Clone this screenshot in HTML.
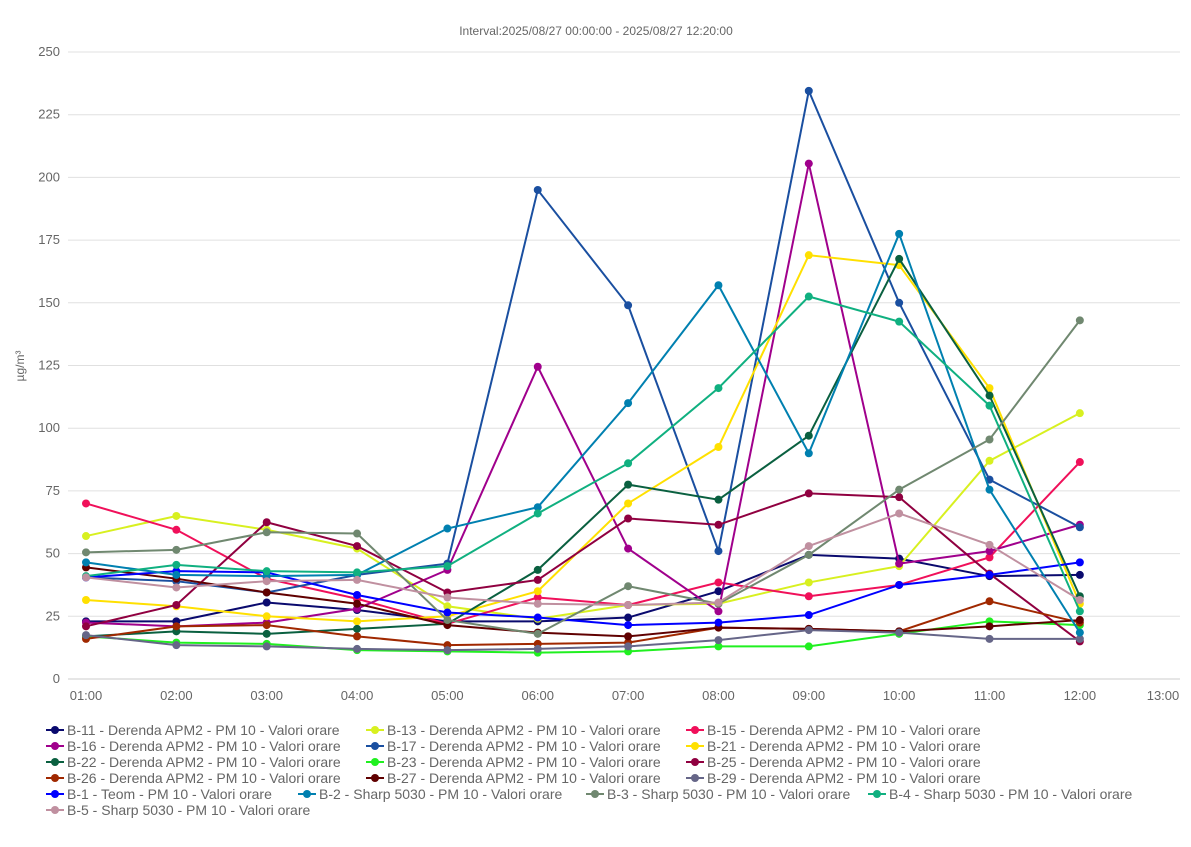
<!DOCTYPE html>
<html><head><meta charset="utf-8"><style>
body{margin:0;background:#fff;font-family:"Liberation Sans",sans-serif}
svg text{font-family:"Liberation Sans",sans-serif}
</style></head><body>
<svg id="c" width="1191" height="842">
<text x="596" y="35" text-anchor="middle" font-size="12" fill="#666">Interval:2025/08/27 00:00:00 - 2025/08/27 12:20:00</text>
<text transform="translate(24,366) rotate(-90)" text-anchor="middle" font-size="12" fill="#666">µg/m³</text>
<g id="grid"></g><g id="series"></g><g id="legend"></g>
</svg>
<script>
const categories=["01:00","02:00","03:00","04:00","05:00","06:00","07:00","08:00","09:00","10:00","11:00","12:00","13:00"];
const yTicks=[0,25,50,75,100,125,150,175,200,225,250];
const seriesNames=["B-11 - Derenda APM2 - PM 10 - Valori orare","B-13 - Derenda APM2 - PM 10 - Valori orare","B-15 - Derenda APM2 - PM 10 - Valori orare","B-16 - Derenda APM2 - PM 10 - Valori orare","B-17 - Derenda APM2 - PM 10 - Valori orare","B-21 - Derenda APM2 - PM 10 - Valori orare","B-22 - Derenda APM2 - PM 10 - Valori orare","B-23 - Derenda APM2 - PM 10 - Valori orare","B-25 - Derenda APM2 - PM 10 - Valori orare","B-26 - Derenda APM2 - PM 10 - Valori orare","B-27 - Derenda APM2 - PM 10 - Valori orare","B-29 - Derenda APM2 - PM 10 - Valori orare","B-1 - Teom - PM 10 - Valori orare","B-2 - Sharp 5030 - PM 10 - Valori orare","B-3 - Sharp 5030 - PM 10 - Valori orare","B-4 - Sharp 5030 - PM 10 - Valori orare","B-5 - Sharp 5030 - PM 10 - Valori orare"];
const b11=[23,23,30.5,27.5,23,23,24.5,35,49.5,48,41,41.5];
const b13=[57,65,59.5,52,29,24,29.5,30,38.5,45,87,106];
const b15=[70,59.5,40,32,22,32.5,29.5,38.5,33,37.5,48.5,86.5];
const b16=[22.5,21,22.5,28,43.5,124.5,52,27,205.5,46,51,61.5];
const b17=[40.5,39,34.5,41.5,46,195,149,51,234.5,150,79.5,60.5];
const b21=[31.5,29,25,23,25,35,70,92.5,169,165,116,30];
const b22=[17,19,18,20,22,43.5,77.5,71.5,97,167.5,113,33];
const b23=[17,14.5,14,11.5,11,10.5,11,13,13,18,23,21.5];
const b25=[21,29.5,62.5,53,34.5,39.5,64,61.5,74,72.5,42,15];
const b26=[16,21,21.5,17,13.5,14,14.5,20.5,20,19,31,22.5];
const b27=[44.5,40,34.5,30,21.5,18.5,17,20.5,20,19,21,23.5];
const b29=[17.5,13.5,13,12,11.5,12,13,15.5,19.5,18.5,16,16];
const b1=[40.5,43,42.5,33.5,26.5,24.5,21.5,22.5,25.5,37.5,41.5,46.5];
const b2=[46.5,41.5,41,41.5,60,68.5,110,157,90,177.5,75.5,18.5];
const b3=[50.5,51.5,58.5,58,23.5,18,37,30,49.5,75.5,95.5,143];
const b4=[41,45.5,43,42.5,45,66,86,116,152.5,142.5,109,27];
const b5=[40.5,36.5,39,39.5,32.5,30,29.5,30.5,53,66,53.5,31.5];
const allSeries=[b11,b13,b15,b16,b17,b21,b22,b23,b25,b26,b27,b29,b1,b2,b3,b4,b5];
const colors=["#0a0a6e","#d8f020","#f0105a","#a0008c","#1a4fa0","#ffe000","#0a6040","#20f020","#900040","#a02800","#600000","#666688","#0000ff","#0080b0","#708870","#10b080","#c090a0"];
const NS="http://www.w3.org/2000/svg";
const X0=86,STEP=90.35,Y0=679,Y1=52;
const xs=i=>X0+STEP*i;
const ys=v=>Y0-(Y0-Y1)*v/250;
function mk(t,a,p){const e=document.createElementNS(NS,t);for(const k in a)e.setAttribute(k,a[k]);p.appendChild(e);return e;}
const grid=document.getElementById('grid');
yTicks.forEach(v=>{
 const l=mk('line',{x1:68,x2:1180,y1:ys(v),y2:ys(v),stroke:v===0?'#ccc':'#e0e0e0','stroke-width':1},grid);
 
 
 const t=mk('text',{x:60,y:ys(v)+4,'text-anchor':'end','font-size':13,fill:'#666'},grid);t.textContent=v;
 
 
});
categories.forEach((c,i)=>{
 const x=i===categories.length-1?1163:xs(i);
 const t=mk('text',{x:x,y:700,'text-anchor':'middle','font-size':13,fill:'#666'},grid);t.textContent=c;
 
 
});
const sg=document.getElementById('series');
allSeries.forEach((d,s)=>{
 const g=mk('g',{},sg);
 
 
 mk('polyline',{points:d.map((v,i)=>xs(i)+','+ys(v)).join(' '),fill:'none',stroke:colors[s],'stroke-width':2},g);
 d.forEach((v,i)=>{const c=mk('circle',{cx:xs(i),cy:ys(v),r:4,fill:colors[s]},g);
  
  });
});
const lg=document.getElementById('legend');
const pos=[];
for(let i=0;i<12;i++)pos.push([46+320*(i%3),730+16*Math.floor(i/3)]);
pos.push([46,794],[298,794],[586,794],[868,794],[46,810]);
seriesNames.forEach((n,s)=>{
 const [x,y]=pos[s];
 const g=mk('g',{},lg);
 
 
 mk('line',{x1:x,x2:x+18,y1:y,y2:y,stroke:colors[s],'stroke-width':2},g);
 mk('circle',{cx:x+9,cy:y,r:4,fill:colors[s]},g);
 const t=mk('text',{x:x+21,y:y+5,'font-size':14,fill:'#666'},g);t.textContent=n;
});
</script>
</body></html>
